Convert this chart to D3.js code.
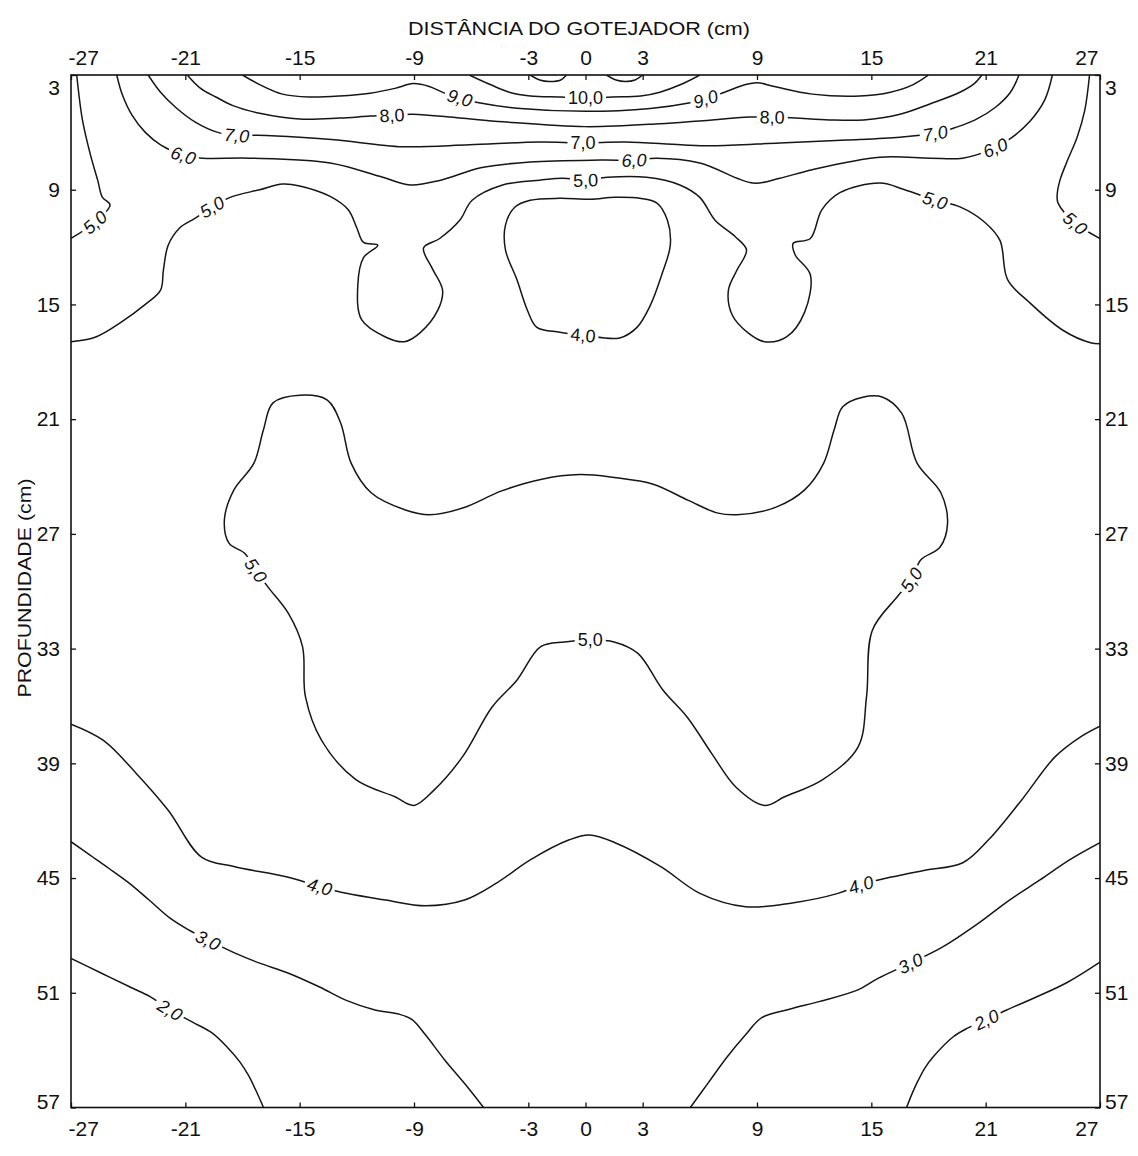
<!DOCTYPE html>
<html>
<head>
<meta charset="utf-8">
<script src="https://cdn.jsdelivr.net/npm/d3@7"></script>
<style>
body{margin:0;background:#fff}
svg text{font-family:"Liberation Sans",Arial,sans-serif;fill:#111}
</style>
</head>
<body>
<svg id="chart" width="1138" height="1156"></svg>
<script>
// tick values (cm)
var xTicks=[-27,-21,-15,-9,-3,0,3,9,15,21,27];
var yTicks=[3,9,15,21,27,33,39,45,51,57];

// contour lines, points are [distance (cm), depth (cm)]
var c11a=[[-2.9,3],[-2.4,3.26],[-1.9,3.34],[-1.3,3.26],[-1.0,3]];
var c11b=[[1.1,3],[1.6,3.26],[2.1,3.34],[2.6,3.26],[3.0,3]];
var c10=[[-6.1,3],[-5.0,3.5],[-4.0,3.9],[-2.9,4.1],[-1.3,4.15],[0,4.2],[1.4,4.15],[2.9,4.1],[3.9,3.9],[5.0,3.5],[6.0,3]];
var c9=[[-18.0,3],[-17.1,3.5],[-15.9,4.0],[-14.5,4.15],[-12.9,4.1],[-11.3,3.95],[-10.0,3.7],[-9.05,3.45],[-8.2,3.6],[-7.4,3.95],[-6.6,4.2],[-5.6,4.45],[-3.4,4.75],[0,4.9],[3.4,4.75],[5.5,4.45],[6.3,4.25],[7.3,3.9],[8.4,3.5],[9.0,3.4],[9.9,3.6],[11.9,4.0],[14.4,4.1],[16.0,3.9],[17.2,3.5],[18.0,3]];
var c8=[[-20.9,3],[-20.2,3.7],[-19.4,4.15],[-18.5,4.6],[-17.1,5.0],[-15.0,5.3],[-12.9,5.25],[-11.3,5.15],[-10.15,5.1],[-9.05,5.05],[-6.6,5.25],[-4.3,5.45],[0,5.7],[3.9,5.55],[6.0,5.4],[8.6,5.2],[9.8,5.2],[11.0,5.25],[12.8,5.35],[14.6,5.35],[16.5,5.05],[18.1,4.5],[19.65,3.9],[20.4,3.45],[20.8,3]];
var c7=[[-22.95,3],[-22.3,3.9],[-21.5,4.7],[-20.5,5.45],[-19.3,6.0],[-18.3,6.15],[-17.2,6.15],[-15.0,6.25],[-13.0,6.4],[-9.6,6.75],[-6.1,6.65],[-2.4,6.5],[-0.13,6.55],[2.1,6.5],[5.0,6.65],[6.7,6.7],[10.2,6.55],[13.7,6.4],[16.5,6.25],[18.35,6.05],[19.4,5.75],[20.45,5.35],[21.5,4.7],[22.3,3.9],[22.75,3]];
var c6=[[-24.6,3],[-24.3,4.05],[-23.8,5.1],[-23.1,6.0],[-22.3,6.65],[-21.1,7.2],[-20.1,7.35],[-17.6,7.35],[-13.4,7.6],[-10.8,8.3],[-9.2,8.75],[-7.6,8.5],[-5.5,7.85],[-2.9,7.55],[0.8,7.45],[2.55,7.45],[3.75,7.35],[6.0,7.6],[8.8,8.65],[10.2,8.4],[11.9,7.95],[15.45,7.3],[18.1,7.35],[19.8,7.35],[21.5,6.8],[22.4,6.25],[23.3,5.45],[24.1,4.3],[24.5,3]];
var c5band=[[-27,16.95],[-25.7,16.7],[-24.4,15.95],[-23.1,15.0],[-22.3,14.25],[-22.15,13.2],[-21.9,11.9],[-21.3,11.0],[-20.5,10.5],[-19.6,9.9],[-18.65,9.4],[-17.1,9.0],[-15.9,8.7],[-15.0,8.8],[-13.4,9.35],[-12.45,10.05],[-12.0,11.0],[-11.65,11.75],[-10.9,11.9],[-11.65,12.55],[-11.95,14.0],[-11.75,15.8],[-10.5,16.7],[-9.5,16.95],[-8.7,16.5],[-7.75,15.3],[-7.5,14.25],[-8.05,13.1],[-8.5,12.05],[-7.65,11.55],[-6.6,10.6],[-5.95,9.55],[-4.35,8.75],[-2.4,8.5],[-1.2,8.4],[0,8.5],[1.15,8.35],[3.2,8.35],[4.95,8.75],[6.0,9.4],[6.8,10.6],[7.85,11.45],[8.45,12.15],[7.95,13.2],[7.5,14.25],[7.7,15.55],[8.55,16.5],[9.4,16.95],[10.55,16.7],[11.5,15.4],[11.8,13.45],[11.0,12.4],[10.9,11.8],[11.8,11.55],[12.4,10.05],[13.35,9.15],[15.45,8.65],[16.75,9.0],[18.35,9.55],[19.65,9.9],[20.95,10.7],[21.75,11.65],[22.15,13.7],[23.3,14.9],[25.05,16.35],[26.5,17.0],[27,17.05]];
var c5edgeL=[[-26.7,3],[-26.4,5.35],[-26.0,7.1],[-25.6,8.5],[-25.35,9.4],[-24.95,9.8],[-25.75,10.7],[-27,11.55]];
var c5edgeR=[[26.45,3],[26.2,4.85],[25.8,6.25],[25.3,7.45],[24.9,8.5],[24.75,9.3],[24.8,9.7],[25.7,10.75],[27,11.55]];
var c4loop=[[0.25,9.5],[1.55,9.4],[2.85,9.45],[3.75,9.7],[4.3,10.6],[4.45,11.9],[4.0,13.45],[3.4,15.05],[2.7,16.2],[1.8,16.75],[-0.13,16.6],[-1.35,16.45],[-2.55,16.2],[-3.05,15.3],[-3.6,13.7],[-4.2,12.15],[-4.2,10.85],[-3.7,9.9],[-2.9,9.55],[-1.35,9.45]];
var c5bat=[[-15.0,19.75],[-16.4,20.15],[-16.9,21.55],[-17.4,23.3],[-18.45,24.7],[-18.95,26.25],[-18.7,27.5],[-17.9,28.0],[-17.3,28.9],[-16.65,29.8],[-15.6,31.15],[-14.85,32.9],[-14.7,35.5],[-13.85,37.8],[-12.05,39.85],[-10.0,40.75],[-9.0,41.2],[-7.95,40.4],[-6.45,38.65],[-4.9,36.05],[-3.6,34.65],[-2.35,32.9],[-1.1,32.65],[0.25,32.55],[1.5,32.65],[2.75,33.25],[4.05,35.15],[5.35,36.6],[6.6,38.45],[7.9,40.25],[9.4,41.2],[10.45,40.75],[12.45,39.85],[14.3,38.15],[14.75,35.5],[15.05,32.05],[16.35,30.3],[17.1,29.4],[17.6,28.35],[18.6,27.7],[19.0,26.45],[18.65,24.85],[17.4,23.3],[16.6,20.7],[15.6,19.85],[14.55,19.85],[13.5,20.35],[13.05,21.55],[12.5,23.3],[11.5,24.7],[10.0,25.6],[7.95,26.0],[6.9,25.9],[5.4,25.25],[3.55,24.4],[1.5,24.05],[-0.3,23.9],[-2.35,24.15],[-4.4,24.75],[-6.45,25.65],[-8.2,26.0],[-9.45,25.75],[-11.25,24.85],[-12.3,23.3],[-12.85,21.2],[-13.55,20.0]];
var c4low=[[-27,36.95],[-25.3,37.8],[-23.6,39.5],[-21.9,41.45],[-20.15,43.9],[-18.45,44.4],[-15.65,44.95],[-13.95,45.45],[-12.55,45.8],[-10.5,46.15],[-8.4,46.45],[-6.35,46.15],[-4.65,45.25],[-2.9,44.05],[-0.85,43.0],[0.2,42.75],[1.55,43.15],[3.95,44.4],[6.0,45.8],[8.4,46.5],[10.85,46.3],[13.25,45.8],[14.45,45.35],[16.05,44.95],[17.75,44.6],[19.8,44.2],[21.15,43.0],[22.9,40.9],[24.65,38.65],[26.0,37.6],[27,37.05]];
var c3left=[[-27,43.1],[-26.0,43.8],[-25.0,44.5],[-23.9,45.3],[-22.9,46.15],[-21.8,47.1],[-20.85,47.7],[-19.8,48.25],[-18.45,48.9],[-17.1,49.45],[-15.65,49.95],[-13.95,50.7],[-12.55,51.4],[-11.05,51.9],[-9.85,52.1],[-9.1,52.4],[-8.4,53.2],[-7.4,54.5],[-6.3,55.8],[-5.35,57]];
var c3right=[[5.5,57],[6.45,55.7],[7.4,54.4],[8.4,53.2],[9.25,52.3],[10.75,51.85],[12.3,51.45],[14.3,50.85],[15.35,50.25],[17.05,49.45],[18.75,48.6],[20.5,47.45],[22.25,46.15],[23.85,45.1],[25.4,44.05],[27,43.15]];
var c2left=[[-27,49.2],[-25.45,49.95],[-23.9,50.7],[-22.85,51.2],[-21.8,51.9],[-20.6,52.55],[-19.6,53.1],[-18.8,53.85],[-18.15,54.6],[-17.7,55.3],[-17.3,56.1],[-16.9,57]];
var c2right=[[16.85,57],[17.15,56.25],[17.4,55.7],[17.8,54.95],[18.25,54.35],[19.3,53.3],[20.05,52.85],[21.05,52.4],[22.1,51.9],[23.6,51.25],[25.3,50.45],[27,49.4]];

// level of each line, same order as the list below
var lineLevels=[11,11,10,9,8,7,6,5,5,5,4,5,4,3,3,2,2];
var linePoints=[c11a,c11b,c10,c9,c8,c7,c6,c5band,c5edgeL,c5edgeR,c4loop,c5bat,c4low,c3left,c3right,c2left,c2right];

// contour labels: [level, distance, depth]
var labels=[[10,0,4.2],[9,-6.6,4.2],[9,6.3,4.25],[8,-10.15,5.1],[8,9.8,5.2],
  [7,-18.3,6.15],[7,-0.13,6.55],[7,18.35,6.05],[6,-21.1,7.2],[6,2.55,7.45],[6,21.5,6.8],
  [5,-19.6,9.9],[5,0,8.5],[5,18.35,9.55],[5,-25.75,10.7],[5,25.7,10.75],[4,-0.13,16.6],
  [5,-17.3,28.9],[5,0.25,32.55],[5,17.1,29.4],[4,-13.95,45.45],[4,14.45,45.35],
  [3,-19.8,48.25],[3,17.05,49.45],[2,-21.8,51.9],[2,21.05,52.4]];

var pLeft=71, pRight=1100, pTop=75, pBottom=1107.5;
var svg=d3.select("#chart");

var x=d3.scaleLinear().domain([-27,27]).range([pLeft,pRight]);
var y=d3.scaleLinear().domain([3,57]).range([pTop,pBottom]);

svg.append("clipPath").attr("id","plotclip")
  .append("rect").attr("x",pLeft).attr("y",pTop).attr("width",pRight-pLeft).attr("height",pBottom-pTop);

var isClosed=function(pts){ return pts===c4loop || pts===c5bat; };
var openLine=d3.line().x(function(d){return x(d[0]);}).y(function(d){return y(d[1]);})
  .curve(d3.curveCatmullRom.alpha(0.5));
var closedLine=d3.line().x(function(d){return x(d[0]);}).y(function(d){return y(d[1]);})
  .curve(d3.curveCatmullRomClosed.alpha(0.5));

svg.append("g").attr("clip-path","url(#plotclip)")
  .selectAll("path").data(linePoints).enter()
  .append("path")
  .attr("d",function(d){ return isClosed(d) ? closedLine(d) : openLine(d); })
  .attr("fill","none")
  .attr("stroke","#161616")
  .attr("stroke-width",1.5)
  .attr("stroke-linejoin","round");

// label angle from the line it sits on
function labelAngle(l){
  var best=null, bd=1e9;
  linePoints.forEach(function(pts,k){
    if(lineLevels[k]!==l[0]) return;
    pts.forEach(function(p,i){
      var dd=Math.pow(x(p[0])-x(l[1]),2)+Math.pow(y(p[1])-y(l[2]),2);
      if(dd<bd){ bd=dd; best={pts:pts,i:i}; }
    });
  });
  if(!best) return 0;
  var pts=best.pts, n=pts.length, i=best.i;
  var a, b;
  if(isClosed(pts)){ a=pts[(i-1+n)%n]; b=pts[(i+1)%n]; }
  else { a=pts[Math.max(0,i-1)]; b=pts[Math.min(n-1,i+1)]; }
  var ang=Math.atan2(y(b[1])-y(a[1]), x(b[0])-x(a[0]))*180/Math.PI;
  if(ang>90) ang-=180;
  if(ang<-90) ang+=180;
  return ang;
}

var lab=svg.selectAll("g.clabel").data(labels).enter()
  .append("g").attr("class","clabel")
  .attr("transform",function(d){ return "translate("+x(d[1])+","+y(d[2])+") rotate("+labelAngle(d)+")"; });

lab.append("text")
  .attr("text-anchor","middle")
  .attr("dy","0.36em")
  .attr("font-size",18)
  .attr("font-style",function(d){ return (Math.abs(d[1])<1 || d[0]===8) ? "normal" : "italic"; })
  .text(function(d){ return d3.format(".1f")(d[0]).replace(".",","); });

lab.each(function(){
  var g=d3.select(this);
  var bb=g.select("text").node().getBBox();
  g.insert("rect","text")
    .attr("x",bb.x-3).attr("y",bb.y+1)
    .attr("width",bb.width+6).attr("height",bb.height-2)
    .attr("fill","#fff");
});

// frame
svg.append("rect").attr("x",pLeft).attr("y",pTop)
  .attr("width",pRight-pLeft).attr("height",pBottom-pTop)
  .attr("fill","none").attr("stroke","#111").attr("stroke-width",1.6);

function styleAxis(g){
  g.select(".domain").remove();
  g.selectAll(".tick line").attr("stroke","#111").attr("stroke-width",1.3);
  g.selectAll(".tick text").attr("font-size",21).attr("fill","#111")
    .attr("font-family","'Liberation Sans',Arial,sans-serif");
}
var fmt=function(d){ return String(d); };

var gTop=svg.append("g").attr("transform","translate(0,"+pTop+")")
  .call(d3.axisTop(x).tickValues(xTicks).tickSize(-5).tickPadding(10).tickFormat(fmt));
var gBottom=svg.append("g").attr("transform","translate(0,"+pBottom+")")
  .call(d3.axisBottom(x).tickValues(xTicks).tickSize(-5).tickPadding(14).tickFormat(fmt));
var gLeft=svg.append("g").attr("transform","translate("+pLeft+",0)")
  .call(d3.axisLeft(y).tickValues(yTicks).tickSize(-5).tickPadding(11).tickFormat(fmt));
var gRight=svg.append("g").attr("transform","translate("+pRight+",0)")
  .call(d3.axisRight(y).tickValues(yTicks).tickSize(-5).tickPadding(5).tickFormat(fmt));

[gTop,gBottom,gLeft,gRight].forEach(styleAxis);

[gTop,gBottom].forEach(function(g){
  g.selectAll(".tick text").filter(function(d){return d===-27;}).attr("text-anchor","start").attr("x",-3);
  g.selectAll(".tick text").filter(function(d){return d===27;}).attr("text-anchor","end").attr("x",-2);
});
[gLeft,gRight].forEach(function(g){
  g.selectAll(".tick text").filter(function(d){return d===3;}).attr("y",13);
  g.selectAll(".tick text").filter(function(d){return d===57;}).attr("y",-6);
});

svg.append("text")
  .attr("x",408).attr("y",35)
  .attr("font-size",18)
  .attr("textLength",342).attr("lengthAdjust","spacingAndGlyphs")
  .text("DISTÂNCIA DO GOTEJADOR (cm)");

svg.append("text")
  .attr("transform","translate(31,588) rotate(-90)")
  .attr("text-anchor","middle")
  .attr("font-size",18)
  .attr("textLength",219).attr("lengthAdjust","spacingAndGlyphs")
  .text("PROFUNDIDADE (cm)");
</script>
</body>
</html>
